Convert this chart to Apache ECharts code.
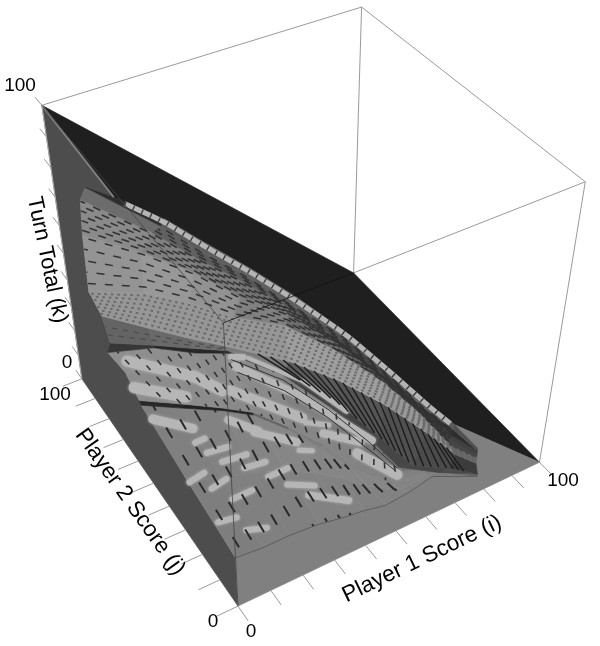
<!DOCTYPE html>
<html><head><meta charset="utf-8"><style>html,body{margin:0;background:#fff}#c{width:600px;height:646px}</style>
<script src="https://cdn.jsdelivr.net/npm/echarts@6/dist/echarts.min.js"></script></head><body><div id="c"></div>
<script>
// Surface: rows run front to back, columns run along the arcs.
const scoreI=[
[0,8,16,25,33,39,46,54,61,77],[0,9,18,26,33,39,44,52,63,77],[0,11,21,28,34,39,43,51,62,77],
[0,12,21,28,34,40,44,50,62,77],[0,13,22,30,38,44,48,52,62,77],[0,13,23,32,42,48,52,54,64,77],
[0,13,23,32,43,50,54,57,67,77],[0,12,22,31,45,54,61,66,70,76],[0,15,26,36,49,58,64,67,69,76],
[0,11,22,31,42,51,59,64,68,76],[0,11,19,28,38,47,56,63,69,76],[0,11,18,27,36,47,56,63,70,76],
[0,12,21,33,44,54,60,64,67,76]];
const scoreJ=[
[0,0,0,0,0,0,0,0,0,0],[26,24,22,19,15,10,6,2,4,0],[53,51,45,40,31,22,13,4,4,0],
[54,51,45,40,31,22,13,4,4,0],[62,61,55,49,39,27,15,6,5,0],[74,71,65,62,48,32,17,6,1,0],
[71,71,66,62,48,32,16,4,0,0],[75,71,65,61,49,37,24,11,2,0],[83,79,73,65,58,46,29,16,3,0],
[82,68,60,51,44,32,21,12,3,0],[80,60,52,44,36,26,15,9,3,0],[75,54,47,40,32,24,14,8,4,0],
[56,54,51,48,43,33,18,7,0,0]];
const turnK=[
[20,19,19,18,16,15,13,14,16,7],[24,22,21,20,19,18,16,14,12,7],[29,24,23,22,21,19,17,15,13,7],
[30,25,24,23,22,20,18,16,14,7],[34,28,26,25,23,21,19,17,14,7],[32,30,28,26,24,22,20,18,15,8],
[38,31,29,27,25,23,21,19,16,8],[45,38,34,30,27,25,23,21,18,13],[48,44,40,36,32,28,26,24,21,15],
[69,68,62,56,50,44,36,30,24,16],[82,80,74,68,60,52,42,33,25,18],[89,86,80,73,65,55,44,34,26,18],
[98,88,79,67,56,46,40,36,33,19]];
const cellGray=[
[126,128,128,130,130,130,130,130,124],[128,130,132,134,134,134,134,132,124],
[40,35,35,100,125,130,130,130,124],[140,140,138,136,134,132,130,128,110],
[142,142,140,138,128,122,118,115,100],[55,40,40,45,60,65,70,70,75],
[100,105,110,120,90,85,80,75,60],[150,150,150,150,158,158,152,140,100],
[148,152,146,128,108,100,95,90,70],[138,128,122,115,105,95,85,80,65],
[108,96,90,88,80,70,60,50,45],[45,90,95,95,95,95,95,90,80]];
const lightBands=[ // i0,j0,i1,j1 on the surface
[9,39,12,39],[10,34,16,33],[12,29,19,28],[16,24,22,23],[20,18,26,18],[23,13,29,9],[26,7,34,0],
[1,27,6,28],[5,22,10,23],[8,16,14,16],[1,11,6,10],[6,5,11,3],[32,22,35,20],[39,30,44,26],
[41,24,48,16],[25,34,33,25],[21,42,26,34],[27,52,39,32],[45,13,50,1],[7,78,21,62],[21,62,25,53],
[4,67,15,56],[3,53,11,44],[38,61,47,44],[47,44,51,28],[33,60,43,40],[43,40,51,15],[34,64,37,62]];
const bandWidth=[6,6,6,6,6,6,7,6,6,6,6,6,5,5,8,8,8,10,10,11,11,11,9,4,5,8,8,6];
const tickValues=[0,10,20,30,40,50,60,70,80,90,100];
const axisNames=['Player 1 Score (i)','Player 2 Score (j)','Turn Total (k)'];

// Camera fitted to the box of the plot
const cam=[355.707,-141.507,-54.6545,237.971,-97.4215,-159.690,-341.222,606.085,0.100441,0.178363,-0.179466];
function project(p){const u=p[0]/100,v=p[1]/100,w=p[2]/100,d=cam[8]*u+cam[9]*v+cam[10]*w+1;
 return [(cam[0]*u+cam[1]*v+cam[2]*w+cam[3])/d,(cam[4]*u+cam[5]*v+cam[6]*w+cam[7])/d];}
const R=scoreI.length,C=scoreI[0].length;
const P=(r,c)=>[scoreI[r][c],scoreJ[r][c],turnK[r][c]];
const mix=(a,b,t)=>a.map((x,i)=>x+(b[i]-x)*t);
function colPt(r,s){const c=Math.min(Math.floor(s),C-2);return mix(P(r,c),P(r,c+1),s-c);}
const marks=[];
const addPoly=(pts,fill,stroke)=>marks.push({k:'poly',pts,fill,stroke:stroke||fill});
const addLine=(pts,style)=>marks.push({k:'line',pts,style});
const rng=(a,b,s)=>{const o=[];for(let x=a;x<=b+1e-6;x+=s)o.push(+x.toFixed(3));return o;};
const grey=g=>`rgb(${g},${g},${g})`;

// Box (behind)
const A=[0,0,0],B=[100,0,0],Cc=[100,100,0],D=[0,100,0],E=[0,0,100],F=[100,0,100],G=[100,100,100],H=[0,100,100];
const boxLine={stroke:'#9a9a9a',lineWidth:1};
[[H,G],[G,F],[G,Cc],[Cc,F],[F,B]].forEach(l=>addLine(l,boxLine));

// Cap plane i+k=100
const topRow=scoreI[R-1].map((_,c)=>P(R-1,c));
addPoly([H,Cc,B].concat(topRow.slice(0,C-1).reverse()),'#1f1f1f');
// Walls
const col0=scoreI.map((_,r)=>P(r,0));
addPoly([D,A].concat(col0,[H]),'#4d4d4d');
const colEnd=scoreI.map((_,r)=>P(r,C-1)).reverse();
const front0=scoreI[0].map((_,c)=>P(0,c)).slice(0,C-1).reverse();
addPoly([A,B,P(R-1,C-2)].concat(colEnd,front0),'#808080');
// Surface cells
for(let r=0;r<R-1;r++)for(let c=0;c<C-1;c++)
 addPoly([P(r,c),P(r,c+1),P(r+1,c+1),P(r+1,c)],grey(cellGray[r][c]));

// Terrace texture on the mesh
function rowsHatch(r0,ts,from,to,style,off){ts.forEach((t,n)=>{const pts=[];for(let c=from;c<=to;c++)pts.push(mix(P(r0,c),P(r0+1,c),t));
 addLine(pts,Object.assign({lineDashOffset:n*off},style));});}
const tDash={stroke:'#333',lineWidth:1.5,lineDash:[8,9]};
rowsHatch(8,[.15,.35,.55,.75,.95],0,8,tDash,7);
rowsHatch(9,[.12,.26,.4,.54,.68,.82,.95],0,8,tDash,9);
rowsHatch(10,[.3,.6,.9],1,8,tDash,5);
rowsHatch(7,[.1,.24,.38,.52,.66,.8,.92],0,9,{stroke:'#6a6a6a',lineWidth:2,lineDash:[2.5,4]},3);
rowsHatch(6,[.3,.6],0,3,{stroke:'#4c4c4c',lineWidth:1.2,lineDash:[5,6]},4);
// Lighter patches
lightBands.forEach((b,n)=>{addLine([[b[0],b[1],22],[b[2],b[3],22]],{stroke:'#b6b6b6',lineWidth:bandWidth[n],lineCap:'round',shadowBlur:3,shadowColor:'#b6b6b6'});});
// Stair lines running along j
rng(.3,6.8,.5).forEach(s=>addLine([colPt(2,s),colPt(1,s),colPt(0,s)],{stroke:'#2a2a2a',lineWidth:2,lineDash:[12,20],lineDashOffset:s*23}));
rng(.2,7,.33).forEach(s=>addLine([colPt(5,s),colPt(3,s+.4)],{stroke:'#333',lineWidth:1.6,lineDash:[6,9],lineDashOffset:s*17}));
rng(3.5,7.8,.2).forEach(s=>addLine([colPt(7,s),colPt(6,Math.min(s+.8,8.9))],{stroke:'#1c1c1c',lineWidth:1.4}));
rowsHatch(4,[.4,.8],3,7,{stroke:'#333',lineWidth:1},0);
// Front edge of the surface
addLine(scoreI[0].map((_,c)=>P(0,c)),{stroke:'#5c5c5c',lineWidth:1});
// Beaded rim along the cap
const rimMid=rng(.35,8,.25).map(s=>mix(colPt(R-2,s),colPt(R-1,s),.65));
addLine(rimMid,{stroke:'#b4b4b4',lineWidth:5});
addLine(rimMid,{stroke:'#3d3d3d',lineWidth:5,lineDash:[1.4,8]});
addLine([P(R-1,0),H],{stroke:'#808080',lineWidth:2});

// Box (in front) and ticks
[[E,H],[E,A]].forEach(l=>addLine(l,{stroke:'#444',lineWidth:.8}));
addLine([E,Cc],{stroke:'#111',lineWidth:.8});
addLine([D,H],{stroke:'#aaaaaa',lineWidth:1});
tickValues.forEach(t=>{
 addLine([[t,0,0],[t,-5.5,0]],boxLine);
 addLine([[0,t,0],[-6.5,t,0]],boxLine);
 addLine([[0,100,t],[0,104.6,t]],boxLine);
});
const texts=[
 {t:'0',x:251,y:632,s:19,r:0},{t:'100',x:563,y:481,s:19,r:0},
 {t:'0',x:213,y:622,s:19,r:0},{t:'100',x:55,y:395,s:19,r:0},
 {t:'0',x:67,y:363,s:19,r:0},{t:'100',x:20,y:86,s:19,r:0},
 {t:axisNames[0],x:422,y:559,s:22.5,r:25.8},{t:axisNames[1],x:130,y:502,s:22.5,r:-54.7},{t:axisNames[2],x:47,y:260,s:22,r:-78}];

const chart=echarts.init(document.getElementById('c'),null,{renderer:'canvas'});
chart.setOption({animation:false,backgroundColor:'#fff',
 grid:{left:0,top:0,right:0,bottom:0},
 xAxis:{type:'value',min:0,max:600,show:false},
 yAxis:{type:'value',min:0,max:646,inverse:true,show:false},
 series:[{type:'custom',coordinateSystem:'cartesian2d',silent:true,clip:false,encode:{x:1,y:2},
  data:marks.map((m,i)=>[i,0,0]),
  renderItem(params,api){const m=marks[api.value(0)];
   const pts=m.pts.map(p=>api.coord(project(p)));
   if(m.k==='poly')return {type:'polygon',shape:{points:pts},style:{fill:m.fill,stroke:m.stroke,lineWidth:.7}};
   return {type:'polyline',shape:{points:pts},style:Object.assign({fill:null},m.style)};}},
  {type:'custom',coordinateSystem:'cartesian2d',silent:true,clip:false,encode:{x:1,y:2},
  data:texts.map((t,i)=>[i,t.x,t.y]),
  renderItem(params,api){const t=texts[api.value(0)],q=api.coord([t.x,t.y]);
   return {type:'text',x:q[0],y:q[1],rotation:t.r*Math.PI/180,style:{text:t.t,fontSize:t.s,fontFamily:'"Liberation Sans",Arial,sans-serif',fill:'#000',textAlign:'center',textVerticalAlign:'middle'}};}}]
});
</script></body></html>
